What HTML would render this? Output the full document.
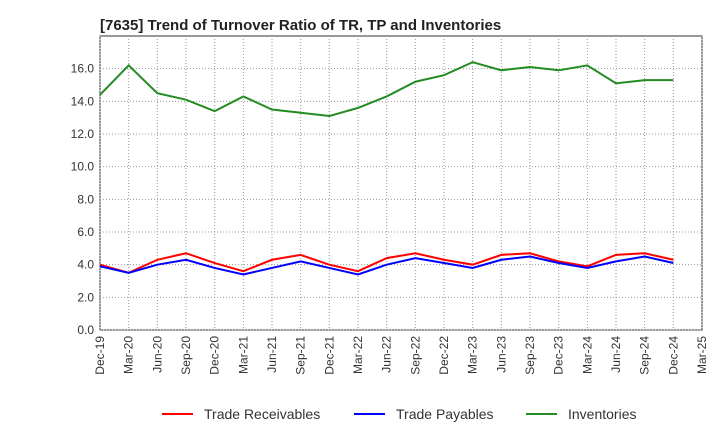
<!DOCTYPE html>
<html><head><meta charset="utf-8"><style>
body{margin:0;background:#fff;font-family:"Liberation Sans",sans-serif;}
</style></head><body>
<svg id="chart" width="720" height="440" xmlns="http://www.w3.org/2000/svg">
<text x="100" y="30" text-anchor="start" font-size="15" font-weight="bold" fill="#222">[7635]  Trend of Turnover Ratio of TR, TP and Inventories</text>
<g id="grid"></g><g id="axes"></g><g id="series"></g>
<g id="legend"></g>
</svg>
<script>
const categories=["Dec-19","Mar-20","Jun-20","Sep-20","Dec-20","Mar-21","Jun-21","Sep-21","Dec-21","Mar-22","Jun-22","Sep-22","Dec-22","Mar-23","Jun-23","Sep-23","Dec-23","Mar-24","Jun-24","Sep-24","Dec-24","Mar-25"];
const receivables=[4.0,3.5,4.3,4.7,4.1,3.6,4.3,4.6,4.0,3.6,4.4,4.7,4.3,4.0,4.6,4.7,4.2,3.9,4.6,4.7,4.3];
const payables=[3.9,3.5,4.0,4.3,3.8,3.4,3.8,4.2,3.8,3.4,4.0,4.4,4.1,3.8,4.3,4.5,4.1,3.8,4.2,4.5,4.1];
const inventories=[14.4,16.2,14.5,14.1,13.4,14.3,13.5,13.3,13.1,13.6,14.3,15.2,15.6,16.4,15.9,16.1,15.9,16.2,15.1,15.3,15.3];
const yTicks=[0,2,4,6,8,10,12,14,16];
const ns="http://www.w3.org/2000/svg";
const L=100,R=702,T=36,B=330,yMax=18;
const x=i=>L+(R-L)*i/(categories.length-1);
const y=v=>B-(B-T)*v/yMax;
function mk(tag,attrs,parent){const e=document.createElementNS(ns,tag);for(const k in attrs)e.setAttribute(k,attrs[k]);parent.appendChild(e);return e;}
const grid=document.getElementById('grid'),axes=document.getElementById('axes'),series=document.getElementById('series'),legend=document.getElementById('legend');
mk('rect',{x:L,y:T,width:R-L,height:B-T,fill:'#fff',stroke:'#333','stroke-width':1},grid);
yTicks.forEach(v=>{
 const l=mk('line',{x1:L,x2:R,y1:y(v),y2:y(v),stroke:'#999','stroke-dasharray':'1,2'},grid);
 
 
 const t=mk('text',{x:L-6,y:y(v)+4,'text-anchor':'end','font-size':12,fill:'#333'},axes);
 t.textContent=v.toFixed(1);
 
 
});
categories.forEach((c,i)=>{
 const l=mk('line',{x1:x(i),x2:x(i),y1:T,y2:B,stroke:'#999','stroke-dasharray':'1,2'},grid);
 
 
 const t=mk('text',{x:0,y:0,'text-anchor':'end','font-size':12,fill:'#333',transform:`translate(${x(i)+4},${B+6}) rotate(-90)`},axes);
 t.textContent=c;
 
 
});
const defs=[["Trade Receivables",receivables,"#ff0000","receivables"],["Trade Payables",payables,"#0000ff","payables"],["Inventories",inventories,"#228b22","inventories"]];
defs.forEach(([name,data,col,key],k)=>{
 const p=mk('polyline',{points:data.map((v,i)=>x(i)+','+y(v)).join(' '),fill:'none',stroke:col,'stroke-width':2},series);
 
 
 const lx=[162,354,526][k];
 const ll=mk('line',{x1:lx,x2:lx+31,y1:414,y2:414,stroke:col,'stroke-width':2},legend);
 
 
 const lt=mk('text',{x:lx+42,y:419,'font-size':14,fill:'#333'},legend);
 lt.textContent=name;
 
 
});
</script>
</body></html>
